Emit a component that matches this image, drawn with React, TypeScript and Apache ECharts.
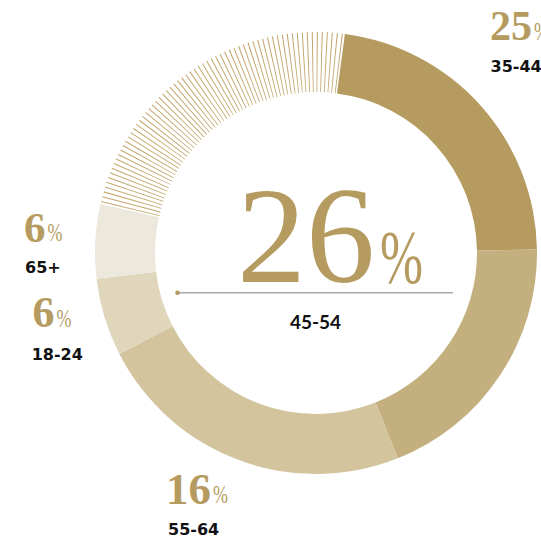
import React, { useEffect, useRef } from 'react';
import * as echarts from 'echarts';

// ---- data ----
const categories = ['35-44', '45-54', '55-64', '18-24', '65+', '25-34'];
// share of the ring each group occupies (degrees)
const arcShares = [81.6, 69.2, 84.6, 20.4, 19.5, 84.7];
// percentages printed next to the groups
const percentLabels = [25, 26, 16, 6, 6];
const highlightIndex = 1;

// ---- styling ----
const sliceColors = ['#B59B60', '#C4AF7F', '#D3C49E', '#DFD6BC', '#ECE8DC'];
const hatchColor = '#C4A76E';
const hatchLineCount = 65;
const hatchLineWidthDeg = 0.28;
const gold = '#B59B60';
const serif = '"Liberation Serif", "DejaVu Serif", serif';
const sans = '"DejaVu Sans", sans-serif';

// label placement (left x, vertical centre of digits, vertical centre of group name)
const labelLayout: Record<string, { x: number; numY: number; nameY: number; nameX: number; size: number }> = {
  '35-44': { x: 490, numY: 26, nameY: 66.5, nameX: 490.5, size: 42 },
  '65+': { x: 24, numY: 227, nameY: 267.5, nameX: 25, size: 43 },
  '18-24': { x: 32.5, numY: 312.7, nameY: 354, nameX: 31.7, size: 44 },
  '55-64': { x: 166, numY: 488.7, nameY: 529, nameX: 168, size: 45 },
};

function buildPieData() {
  const data: any[] = [];
  for (let i = 0; i < 5; i++) {
    data.push({ name: categories[i], value: arcShares[i], itemStyle: { color: sliceColors[i] } });
  }
  const step = arcShares[5] / hatchLineCount;
  const gap = (step - hatchLineWidthDeg) / 2;
  for (let k = 0; k < hatchLineCount; k++) {
    data.push({ name: categories[5] + '-g' + k, value: gap, itemStyle: { color: 'rgba(0,0,0,0)' } });
    data.push({ name: categories[5] + '-l' + k, value: hatchLineWidthDeg, itemStyle: { color: hatchColor } });
    data.push({ name: categories[5] + '-h' + k, value: gap, itemStyle: { color: 'rgba(0,0,0,0)' } });
  }
  return data;
}

function numberLabel(cat: string, value: number): any[] {
  const L = labelLayout[cat];
  const numStr = String(value);
  const digitsW = numStr.length * L.size * 0.5;
  const pctSize = 25;
  return [
    {
      type: 'text', x: L.x, y: L.numY,
      style: { text: numStr, font: `bold ${L.size}px ${serif}`, fill: gold, textAlign: 'left', textVerticalAlign: 'middle' },
    },
    {
      type: 'text', x: L.x + digitsW + 2, y: L.numY + L.size * 0.338 - pctSize * 0.338,
      scaleX: 0.72,
      style: { text: '%', font: `${pctSize}px ${serif}`, fill: gold, textAlign: 'left', textVerticalAlign: 'middle' },
    },
    {
      type: 'text', x: L.nameX, y: L.nameY,
      style: { text: cat, font: `bold 16px ${sans}`, fill: '#111', textAlign: 'left', textVerticalAlign: 'middle' },
    },
  ];
}

export default function App() {
  const ref = useRef<HTMLDivElement>(null);
  useEffect(() => {
    if (!ref.current) return;
    const chart = echarts.init(ref.current, null, { renderer: 'svg' });
    const graphic: any[] = [];
    for (let i = 0; i < 5; i++) {
      if (i === highlightIndex) continue;
      graphic.push(...numberLabel(categories[i], percentLabels[i]));
    }
    // centre highlight
    graphic.push(
      {
        type: 'text', x: 237, y: 235,
        style: { text: String(percentLabels[highlightIndex]), font: `138px ${serif}`, fill: gold, textAlign: 'left', textVerticalAlign: 'middle' },
      },
      {
        type: 'text', x: 380, y: 257.5, scaleX: 0.68,
        style: { text: '%', font: `76px ${serif}`, fill: gold, textAlign: 'left', textVerticalAlign: 'middle' },
      },
      {
        type: 'line', shape: { x1: 177, y1: 292.7, x2: 453, y2: 292.7 },
        style: { stroke: '#A8A8A8', lineWidth: 1.6 },
      },
      { type: 'circle', shape: { cx: 177.5, cy: 292.7, r: 2.3 }, style: { fill: gold } },
      {
        type: 'text', x: 315.5, y: 321,
        style: { text: categories[highlightIndex], font: `bold 19px ${'Lato, sans-serif'}`, fill: '#111', textAlign: 'center', textVerticalAlign: 'middle' },
      }
    );

    chart.setOption({
      animation: false,
      series: [
        {
          type: 'pie',
          center: [316, 253],
          radius: [161, 221],
          startAngle: 82.5,
          clockwise: true,
          silent: true,
          label: { show: false },
          labelLine: { show: false },
          emphasis: { disabled: true },
          itemStyle: { borderWidth: 0 },
          data: buildPieData(),
        },
      ],
      graphic,
    });
    return () => chart.dispose();
  }, []);
  return <div ref={ref} style={{ position: 'absolute', left: 0, top: 0, width: 541, height: 540 }} />;
}
